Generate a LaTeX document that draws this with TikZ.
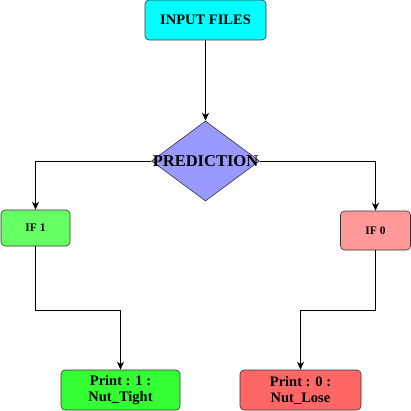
\documentclass[tikz,border=0pt]{standalone}
\usepackage{fontspec}
\setmainfont{Liberation Serif}
\usetikzlibrary{shapes.geometric,arrows.meta}
\definecolor{cyanfill}{HTML}{00FFFF}
\definecolor{diafill}{HTML}{9999FF}
\definecolor{ifone}{HTML}{66FF66}
\definecolor{ifzero}{HTML}{FF9999}
\definecolor{printone}{HTML}{33FF33}
\definecolor{printzero}{HTML}{FF6666}
\tikzset{
  box/.style={draw=black!80, rounded corners=4pt, line width=0.6pt, inner sep=0pt, align=center, font=\bfseries},
  conn/.style={line width=0.7pt, -{Stealth[length=8pt,width=7pt,inset=2.5pt]}},
}
\begin{document}
\begin{tikzpicture}[x=1pt,y=-1pt]
\useasboundingbox (0,0) rectangle (411,411);
\node[box, fill=cyanfill, minimum width=121pt, minimum height=40pt, font=\bfseries\fontsize{14.5}{16}\selectfont] (in) at (205.5,20) {INPUT FILES};
\node[draw=black!80, fill=diafill, diamond, aspect=1.35, minimum width=108pt, minimum height=80pt, inner sep=0pt, line width=0.6pt] (pred) at (205.5,161) {};
\node[font=\bfseries\fontsize{16.5}{18}\selectfont] (predt) at (205.5,161) {PREDICTION};
\node[box, fill=ifone, minimum width=69pt, minimum height=36pt, font=\bfseries\fontsize{11.5}{13}\selectfont] (if1) at (35.5,228) {IF 1};
\node[box, fill=ifzero, minimum width=70pt, minimum height=39pt, font=\bfseries\fontsize{11.5}{13}\selectfont] (if0) at (375.5,230.5) {IF 0};
\node[box, fill=printone, minimum width=119pt, minimum height=40pt, font=\bfseries\fontsize{14.5}{16}\selectfont] (p1) at (120.5,390) {Print : 1 :\\Nut\_Tight};
\node[box, fill=printzero, minimum width=121pt, minimum height=40pt, font=\bfseries\fontsize{14.5}{16}\selectfont] (p0) at (300.5,390) {Print : 0 :\\Nut\_Lose};
\coordinate (e1) at (35.5,310);
\coordinate (e2) at (120.5,310);
\coordinate (e3) at (375.5,310);
\coordinate (e4) at (300.5,310);
\draw[conn] (in.south) -- (pred.north);
\draw[conn] (pred.west) -| (if1.north);
\draw[conn] (pred.east) -| (if0.north);
\draw[conn] (if1.south) -- (e1) -- (e2) -- (p1.north);
\draw[conn] (if0.south) -- (e3) -- (e4) -- (p0.north);
\end{tikzpicture}
\end{document}
